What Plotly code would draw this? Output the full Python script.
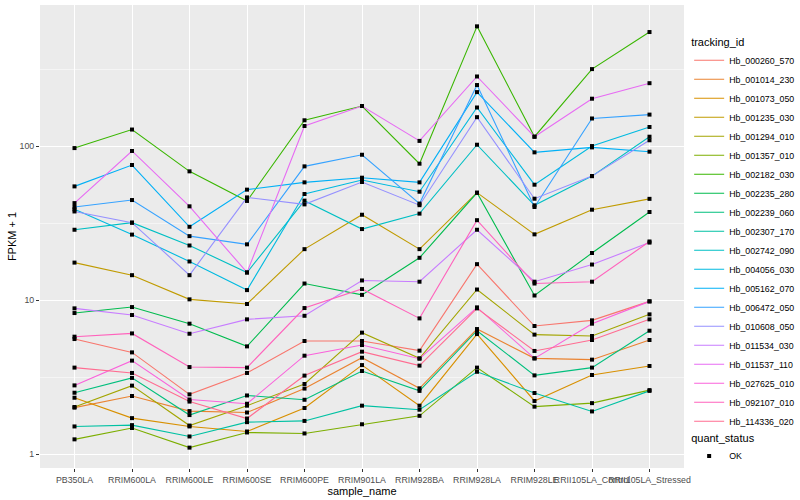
import plotly.graph_objects as go

sample_names = ["PB350LA", "RRIM600LA", "RRIM600LE", "RRIM600SE", "RRIM600PE",
                "RRIM901LA", "RRIM928BA", "RRIM928LA", "RRIM928LE",
                "RRII105LA_Control", "RRII105LA_Stressed"]

tracking_ids = ["Hb_000260_570", "Hb_001014_230", "Hb_001073_050", "Hb_001235_030",
                "Hb_001294_010", "Hb_001357_010", "Hb_002182_030", "Hb_002235_280",
                "Hb_002239_060", "Hb_002307_170", "Hb_002742_090", "Hb_004056_030",
                "Hb_005162_070", "Hb_006472_050", "Hb_010608_050", "Hb_011534_030",
                "Hb_011537_110", "Hb_027625_010", "Hb_092107_010", "Hb_114336_020"]

# FPKM + 1 per sample (order of sample_names)
Hb_000260_570 = [5.58, 4.57, 2.44, 3.36, 5.42, 5.42, 4.69, 17.1, 6.78, 7.38, 9.8]
Hb_001014_230 = [2.0, 2.38, 1.90, 1.86, 2.66, 4.22, 2.67, 6.48, 4.18, 4.1, 5.5]
Hb_001073_050 = [2.32, 1.71, 1.51, 1.40, 1.99, 3.78, 2.06, 6.01, 2.21, 3.26, 3.73]
Hb_001235_030 = [17.5, 14.5, 10.1, 9.42, 21.4, 35.8, 21.4, 49.8, 26.7, 38.6, 45.4]
Hb_001294_010 = [2.02, 2.78, 1.53, 2.06, 2.85, 6.14, 4.18, 11.7, 5.96, 5.84, 8.07]
Hb_001357_010 = [1.245, 1.475, 1.10, 1.38, 1.36, 1.56, 1.77, 3.64, 2.03, 2.14, 2.60]
Hb_002182_030 = [97, 128, 68.5, 44, 147, 182, 76.8, 599, 115, 316, 550]
Hb_002235_280 = [8.23, 9.0, 7.02, 5.0, 12.8, 10.8, 18.8, 49.7, 10.7, 20.2, 37.3]
Hb_002239_060 = [2.50, 3.12, 1.79, 2.40, 2.25, 3.46, 2.57, 6.32, 3.24, 3.64, 6.32]
Hb_002307_170 = [1.51, 1.54, 1.30, 1.61, 1.64, 2.06, 1.94, 3.42, 2.49, 1.89, 2.57]
Hb_002742_090 = [28.6, 31.8, 22.6, 15.1, 44.2, 28.9, 36.4, 102, 41.2, 63.8, 115]
Hb_004056_030 = [38.8, 26.6, 17.8, 11.6, 48.8, 60.2, 50.5, 178, 56.1, 100, 133]
Hb_005162_070 = [54.7, 75.3, 29.9, 52.1, 58.1, 62.3, 58.1, 224, 91, 98, 91.9]
Hb_006472_050 = [40.2, 44.6, 26.0, 23.0, 73.8, 87.8, 42.3, 249, 40.2, 151, 160]
Hb_010608_050 = [37.6, 31.8, 14.5, 46.4, 41.8, 58.4, 41.3, 154, 45.5, 63.8, 109]
Hb_011534_030 = [8.83, 7.99, 6.04, 7.49, 7.9, 13.4, 13.15, 28.6, 13.15, 17.0, 23.6]
Hb_011537_110 = [42.6, 92.9, 40.6, 15.1, 135, 182, 108, 283, 115, 203, 256]
Hb_027625_010 = [2.79, 4.04, 2.26, 2.12, 4.35, 5.1, 4.16, 8.96, 4.18, 7.02, 9.8]
Hb_092107_010 = [5.78, 6.07, 3.67, 3.64, 8.87, 11.8, 7.6, 33.0, 12.8, 13.15, 24.0]
Hb_114336_020 = [3.64, 3.36, 2.19, 1.70, 3.23, 4.62, 3.75, 8.83, 4.67, 5.5, 7.49]

series_values = [Hb_000260_570, Hb_001014_230, Hb_001073_050, Hb_001235_030,
                 Hb_001294_010, Hb_001357_010, Hb_002182_030, Hb_002235_280,
                 Hb_002239_060, Hb_002307_170, Hb_002742_090, Hb_004056_030,
                 Hb_005162_070, Hb_006472_050, Hb_010608_050, Hb_011534_030,
                 Hb_011537_110, Hb_027625_010, Hb_092107_010, Hb_114336_020]

quant_status = "OK"

y_tickvals = [1, 10, 100]
y_ticktext = ["1", "10", "100"]
y_minor = [10 ** 0.5, 10 ** 1.5, 10 ** 2.5]

colors = ["#F8766D", "#EA8331", "#D89000", "#C09B00", "#A3A500", "#7CAE00", "#39B600",
          "#00BB4E", "#00BF7D", "#00C1A3", "#00BFC4", "#00BAE0", "#00B0F6", "#35A2FF",
          "#9590FF", "#C77CFF", "#E76BF3", "#FA62DB", "#FF62BC", "#FF6C91"]

FONT = "Liberation Sans, Arial, sans-serif"

fig = go.Figure()
for name, vals, col in zip(tracking_ids, series_values, colors):
    fig.add_trace(go.Scatter(x=sample_names, y=vals, mode="lines", name=name,
                             line=dict(color=col, width=1.1), legend="legend"))

all_x = [s for vals in series_values for s in sample_names]
all_y = [v for vals in series_values for v in vals]
fig.add_trace(go.Scatter(x=all_x, y=all_y, mode="markers", name=quant_status,
                         marker=dict(color="black", symbol="square", size=4),
                         legend="legend2"))

fig.update_layout(
    width=800, height=500,
    margin=dict(l=40, r=116, t=5, b=32, autoexpand=False),
    paper_bgcolor="white", plot_bgcolor="#EBEBEB",
    font=dict(family=FONT, size=9, color="black"),
    showlegend=True,
    legend=dict(title=dict(text="tracking_id", font=dict(size=11)),
                font=dict(size=8.8), x=1.008, xanchor="left", y=0.943, yanchor="top",
                tracegroupgap=0, bgcolor="rgba(0,0,0,0)"),
    legend2=dict(title=dict(text="quant_status", font=dict(size=11)),
                 font=dict(size=8.8), x=1.008, xanchor="left", y=0.088, yanchor="top",
                 bgcolor="rgba(0,0,0,0)"),
)

fig.update_xaxes(type="category", categoryorder="array", categoryarray=sample_names,
                 range=[-0.6, 10.6], showgrid=True, gridcolor="white", gridwidth=1.2,
                 zeroline=False, showline=False, ticks="outside", ticklen=3,
                 tickcolor="#333333", tickwidth=1, tickangle=0, automargin=False,
                 tickfont=dict(size=8.8, color="#4D4D4D"),
                 title=dict(text="sample_name", font=dict(size=11), standoff=2))

fig.update_yaxes(type="log", range=[-0.0909, 2.916], tickmode="array",
                 tickvals=y_tickvals, ticktext=y_ticktext, automargin=False,
                 showgrid=True, gridcolor="white", gridwidth=1.2,
                 minor=dict(tickmode="array", tickvals=y_minor, showgrid=True,
                            gridcolor="#F5F5F5", gridwidth=0.6, ticks=""),
                 zeroline=False, showline=False, ticks="outside", ticklen=3,
                 tickcolor="#333333", tickwidth=1,
                 tickfont=dict(size=8.8, color="#4D4D4D"),
                 title=dict(text="FPKM + 1", font=dict(size=11), standoff=0))

fig.write_html("out.html", config={"displayModeBar": False},
               post_script="document.body.style.margin='0';document.body.style.overflow='hidden';")
